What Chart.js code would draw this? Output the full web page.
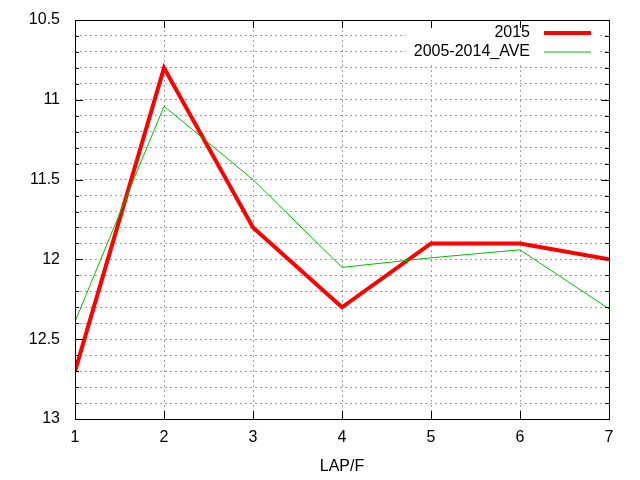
<!DOCTYPE html>
<html>
<head>
<meta charset="utf-8">
<script src="https://cdn.jsdelivr.net/npm/chart.js@4"></script>
<style>
  html, body { margin: 0; padding: 0; background: #fff; }
  #wrap { width: 640px; height: 480px; }
</style>
</head>
<body>
<div id="wrap"><canvas id="lapChart" width="640" height="480"></canvas></div>
<script>
// LAP/F values, 2015 vs 2005-2014 average
const laps = [1, 2, 3, 4, 5, 6, 7];
const year2015 = [12.7, 10.8, 11.8, 12.3, 11.9, 11.9, 12.0];
const ave0514 = [12.39, 11.04, 11.5, 12.05, 11.99, 11.94, 12.31];
const seriesNames = ['2015', '2005-2014_AVE'];
const yLabelTicks = [10.5, 11, 11.5, 12, 12.5, 13];

const FONT = 'Liberation Sans, Arial, sans-serif';

const pts = (ys) => laps.map((x, i) => ({ x: x, y: ys[i] }));

const isLabelTick = (v) => yLabelTicks.some(t => Math.abs(t - v) < 1e-6);

// frame + inward tick marks like gnuplot
const framePlugin = {
    id: 'frame',
    afterDraw(chart) {
        const ctx = chart.ctx;
        const a = chart.chartArea;
        const xs = chart.scales.x, ys = chart.scales.y;
        ctx.save();
        ctx.strokeStyle = '#000';
        ctx.lineWidth = 1;
        ctx.beginPath();
        xs.ticks.forEach(t => {
            const px = Math.round(xs.getPixelForValue(t.value)) + 0.5;
            ctx.moveTo(px, a.bottom); ctx.lineTo(px, a.bottom - 8);
            ctx.moveTo(px, a.top); ctx.lineTo(px, a.top + 8);
        });
        ys.ticks.forEach(t => {
            const py = Math.round(ys.getPixelForValue(t.value)) + 0.5;
            const len = isLabelTick(t.value) ? 8 : 4;
            ctx.moveTo(a.left, py); ctx.lineTo(a.left + len, py);
            ctx.moveTo(a.right, py); ctx.lineTo(a.right - len, py);
        });
        ctx.stroke();
        ctx.strokeRect(Math.round(a.left) + 0.5, Math.round(a.top) + 0.5,
                       Math.round(a.right - a.left), Math.round(a.bottom - a.top));
        ctx.restore();
    }
};

// key box in the top right corner
const keyPlugin = {
    id: 'key',
    beforeDatasetsDraw(chart) {
        const ctx = chart.ctx;
        const a = chart.chartArea;
        const textRight = a.right - 79;
        ctx.save();
        ctx.fillStyle = '#fff';
        ctx.fillRect(textRight - 124, a.top + 4, 194, 38);
        ctx.font = '16px ' + FONT;
        ctx.textAlign = 'right';
        ctx.textBaseline = 'middle';
        chart.data.datasets.forEach((ds, i) => {
            const y = a.top + 13 + i * 19;
            ctx.fillStyle = '#000';
            ctx.fillText(ds.label, textRight, y);
            ctx.strokeStyle = ds.borderColor;
            ctx.lineWidth = ds.borderWidth;
            ctx.beginPath();
            ctx.moveTo(textRight + 14, y);
            ctx.lineTo(textRight + 61, y);
            ctx.stroke();
        });
        ctx.restore();
    }
};

new Chart(document.getElementById('lapChart').getContext('2d'), {
    type: 'line',
    data: {
        datasets: [{
            label: seriesNames[0],
            data: pts(year2015),
            borderColor: '#ff0000',
            borderWidth: 4,
            pointRadius: 0,
            tension: 0,
            order: 2
        }, {
            label: seriesNames[1],
            data: pts(ave0514),
            borderColor: '#00c000',
            borderWidth: 1,
            pointRadius: 0,
            tension: 0,
            order: 1
        }]
    },
    options: {
        responsive: false,
        animation: false,
        layout: { padding: { left: 0, top: 20, right: 31, bottom: 0 } },
        plugins: {
            legend: { display: false },
            tooltip: { enabled: false }
        },
        scales: {
            x: {
                type: 'linear',
                min: 1,
                max: 7,
                afterFit: (s) => { s.height = 61; },
                ticks: {
                    stepSize: 1,
                    color: '#000',
                    padding: 9,
                    font: { family: FONT, size: 16 }
                },
                grid: { color: '#a0a0a0', drawTicks: false },
                border: { display: false, dash: [2, 3] },
                title: {
                    display: true,
                    text: 'LAP/F',
                    color: '#000',
                    padding: { top: 0, bottom: 4 },
                    font: { family: FONT, size: 16 }
                }
            },
            y: {
                reverse: true,
                min: 10.5,
                max: 13,
                afterFit: (s) => { s.width = 75; s.paddingTop = 0; s.paddingBottom = 0; },
                ticks: {
                    stepSize: 0.1,
                    autoSkip: false,
                    color: '#000',
                    padding: 15,
                    font: { family: FONT, size: 16 },
                    callback: (v) => isLabelTick(v) ? String(Math.round(v * 10) / 10) : ''
                },
                grid: { color: '#a0a0a0', drawTicks: false },
                border: { display: false, dash: [2, 3] }
            }
        }
    },
    plugins: [keyPlugin, framePlugin]
});
</script>
</body>
</html>
